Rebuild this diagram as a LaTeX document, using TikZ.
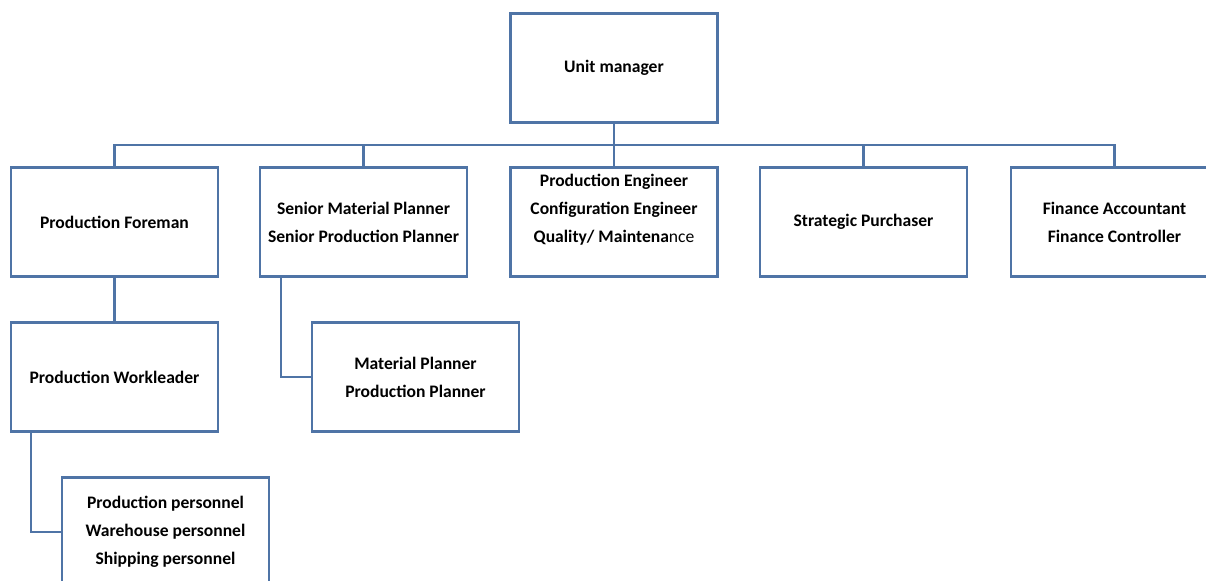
\documentclass[tikz,border=0pt]{standalone}
\usepackage{fontspec}
\setmainfont{Carlito}
\definecolor{orgline}{RGB}{79,116,166}
\newcommand{\boxw}{207}
\newcommand{\boxh}{109}
\tikzset{
  x=0.02cm, y=-0.02cm,
  unitbox/.style={draw=orgline, line width=1.3pt, fill=white, align=center,
    minimum width=\boxw*0.02cm, minimum height=\boxh*0.02cm,
    inner sep=0pt, font=\fontsize{10}{16}\selectfont\bfseries},
  link/.style={draw=orgline, line width=1.3pt}
}
\begin{document}
\begin{tikzpicture}
  \useasboundingbox (0, 0) rectangle (1206, 581);
  \node[unitbox] (unit) at (614, 68) {Unit manager};
  \coordinate (bus) at (614, 145);
  \node[unitbox] (foreman)   at (114.5, 222) {Production Foreman};
  \node[unitbox] (senior)    at (363.5, 222) {Senior Material Planner\\Senior Production Planner};
  \node[unitbox] (engineer)  at (614, 222)
    {Production Engineer\\Configuration Engineer\\Quality/ Maintena\textmd{nce}\\\mbox{}};
  \node[unitbox] (purchaser) at (863.5, 222) {Strategic Purchaser};
  \node[unitbox] (finance)   at (1114.5, 222) {Finance Accountant\\Finance Controller};
  \node[unitbox] (workleader) at (114.5, 377) {Production Workleader};
  \node[unitbox] (planner)    at (415.5, 377) {Material Planner\\Production Planner};
  \node[unitbox] (personnel)  at (165.5, 532)
    {Production personnel\\Warehouse personnel\\Shipping personnel};
  \draw[link] (unit) -- (bus);
  \foreach \n in {foreman, senior, engineer, purchaser, finance}
    \draw[link] (\n.north) |- (bus);
  \draw[link] (foreman) -- (workleader);
  \draw[link] ([xshift=22*0.02cm]senior.south west) |- (planner.west);
  \draw[link] ([xshift=21*0.02cm]workleader.south west) |- (personnel.west);
\end{tikzpicture}
\end{document}
